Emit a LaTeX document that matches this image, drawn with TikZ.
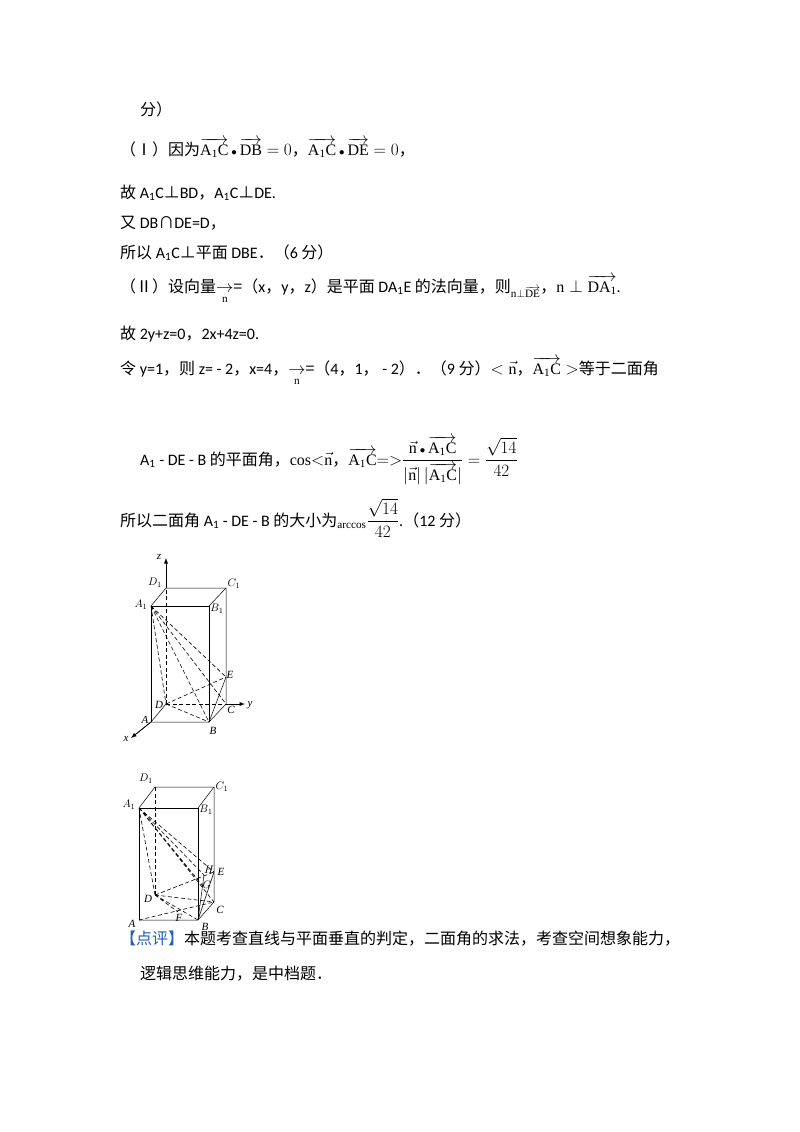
\documentclass[tikz,border=0pt]{standalone}
\usepackage{amsmath}
\usepackage{fontspec}
\setmainfont{Carlito}
\setmathrm{Liberation Serif}
\newfontfamily\cjk{Noto Sans CJK SC}
\newfontfamily\msr{Liberation Serif}
\newcommand\zh[1]{{\cjk #1}}
\newcommand\ov[1]{\overrightarrow{\mathrm{#1}}}
\newcommand\dt{\,{\scriptstyle\bullet}\,}
\begin{document}
\begin{tikzpicture}[x=1pt,y=-1pt,
  t/.style={anchor=base west,inner sep=0pt,font=\fontsize{16}{19}\selectfont},
  lbl/.style={inner sep=0pt,font=\fontsize{11}{12}\itshape\msr},
  sol/.style={line width=0.5pt},
  thk/.style={line width=0.9pt},
  dsh/.style={dash pattern=on 4pt off 2.5pt,line width=0.6pt}]
\useasboundingbox (0,0) rectangle (800,1132);
\node[t] (l1) at (140,115) {\zh{分）}};
\node[t] (l2) at (120,155) {\zh{（Ⅰ）因为}$\ov{A_1C}\dt\ov{DB}=0$\zh{，}$\ov{A_1C}\dt\ov{DE}=0$\zh{，}};
\node[t] (l3) at (120,198) {\zh{故} A\textsubscript{1}C\zh{⊥}BD\zh{，}A\textsubscript{1}C\zh{⊥}DE.};
\node[t] (l4) at (120,228) {\zh{又} DB\zh{∩}DE=D\zh{，}};
\node[t] (l5) at (120,258) {\zh{所以} A\textsubscript{1}C\zh{⊥平面} DBE\zh{．（}6 \zh{分）}};
\node[t] (l6) at (120,292) {\zh{（Ⅱ）设向量}$\underset{\mathrm{n}}{\to}$\zh{=（}x\zh{，}y\zh{，}z\zh{）是平面} DA\textsubscript{1}E \zh{的法向量，则}$_{\mathrm{n}\perp\ov{DE}}$\zh{，}$\mathrm{n}\perp\ov{DA_1}$.};
\node[t] (l7) at (120,339) {\zh{故} 2y+z=0\zh{，}2x+4z=0.};
\node[t] (l8) at (120,374) {\zh{令} y=1\zh{，则} z= - 2\zh{，}x=4\zh{，}$\underset{\mathrm{n}}{\to}$\zh{=（}4\zh{，}1\zh{，} - 2\zh{）．（}9 \zh{分）}$<\vec{\mathrm{n}}$\zh{，}$\ov{A_1C}>$\zh{等于二面角}};
\node[t] (l9) at (140,465) {A\textsubscript{1} - DE - B \zh{的平面角，}$\mathrm{cos}{<}\vec{\mathrm{n}}$\zh{，}$\ov{A_1C}{=}{>}\dfrac{\vec{\mathrm{n}}\dt\ov{A_1C}}{|\vec{\mathrm{n}}|\,|\ov{A_1C}|}=\dfrac{\sqrt{14}}{42}$};
\node[t] (l10) at (120,526) {\zh{所以二面角} A\textsubscript{1} - DE - B \zh{的大小为}$_{\mathrm{arccos}}\dfrac{\sqrt{14}}{42}$.\zh{（}12 \zh{分）}};
\node[t] (l11) at (120,944) {\zh{\color[HTML]{1F5FBF}【点评】}\zh{本题考查直线与平面垂直的判定，二面角的求法，考查空间想象能力，}};
\node[t] (l12) at (140,979) {\zh{逻辑思维能力，是中档题．}};
% figure 1
\begin{scope}
\coordinate (A1) at (151,606); \coordinate (B1) at (209,606);
\coordinate (D1) at (166,588); \coordinate (C1) at (226,588);
\coordinate (A) at (151,722); \coordinate (B) at (209,722);
\coordinate (C) at (226,704); \coordinate (D) at (166,704);
\coordinate (E) at (226,677);
\coordinate (Z) at (166,558); \coordinate (Y) at (245,704); \coordinate (X) at (131,738);
\draw[thk] (A1)--(B1)--(B); \draw[thk] (A1)--(A);
\draw[sol] (A)--(B)--(C)--(C1)--(D1)--(A1); \draw[sol] (B1)--(C1);
\draw[sol] (D)--(A); \draw[sol] (B)--(E);
\draw[thk,dsh] (D)--(D1);
\draw[thk,-latex] (D1)--(Z);
\draw[dsh] (D)--(C); \draw[thk,-latex] (C)--(Y);
\draw[thk,-latex] (A)--(X);
\draw[dsh] (A1)--(D) (A1)--(B) (A1)--(E) (A1)--(C) (D)--(E) (D)--(B);
\node[lbl] at (159,557) {z}; \node[lbl] at (250,705) {y}; \node[lbl] at (126,739) {x};
\node[lbl] at (155,583) {$D_1$}; \node[lbl] at (234,584) {$C_1$};
\node[lbl] at (141,605) {$A_1$}; \node[lbl] at (217,609) {$B_1$};
\node[lbl] at (230,675) {E}; \node[lbl] at (159,705) {D};
\node[lbl] at (145,720) {A}; \node[lbl] at (213,731) {B}; \node[lbl] at (231,710) {C};
\end{scope}
% figure 2
\begin{scope}
\coordinate (A1) at (139,808); \coordinate (B1) at (198,808);
\coordinate (D1) at (155,787); \coordinate (C1) at (214,787);
\coordinate (A) at (139,920); \coordinate (B) at (198,920);
\coordinate (C) at (214,902); \coordinate (D) at (155,895);
\coordinate (E) at (214,872); \coordinate (H) at (204,875);
\coordinate (G) at (203,886); \coordinate (F) at (178,912);
\draw[thk] (A1)--(B1)--(B); \draw[thk] (A1)--(A);
\draw[sol] (A)--(B)--(C)--(C1)--(D1)--(A1); \draw[sol] (B1)--(C1);
\draw[sol] (B)--(E) (B)--(H);
\draw[thk,dsh] (D)--(D1);
\draw[dsh] (A1)--(D) (A1)--(H) (A1)--(G) (A1)--(E) (A1)--(C) (D)--(E) (D)--(C) (D)--(B) (A)--(C) (D)--(F);
\node[lbl] at (146,779) {$D_1$}; \node[lbl] at (222,787) {$C_1$};
\node[lbl] at (129,805) {$A_1$}; \node[lbl] at (206,810) {$B_1$};
\node[lbl] at (209,870) {$H$}; \node[lbl] at (207,885) {$G$};
\node[lbl] at (221,872) {E}; \node[lbl] at (148,899) {D}; \node[lbl] at (179,918) {F};
\node[lbl] at (132,924) {A}; \node[lbl] at (205,927) {B}; \node[lbl] at (220,910) {C};
\end{scope}
\end{tikzpicture}
\end{document}
